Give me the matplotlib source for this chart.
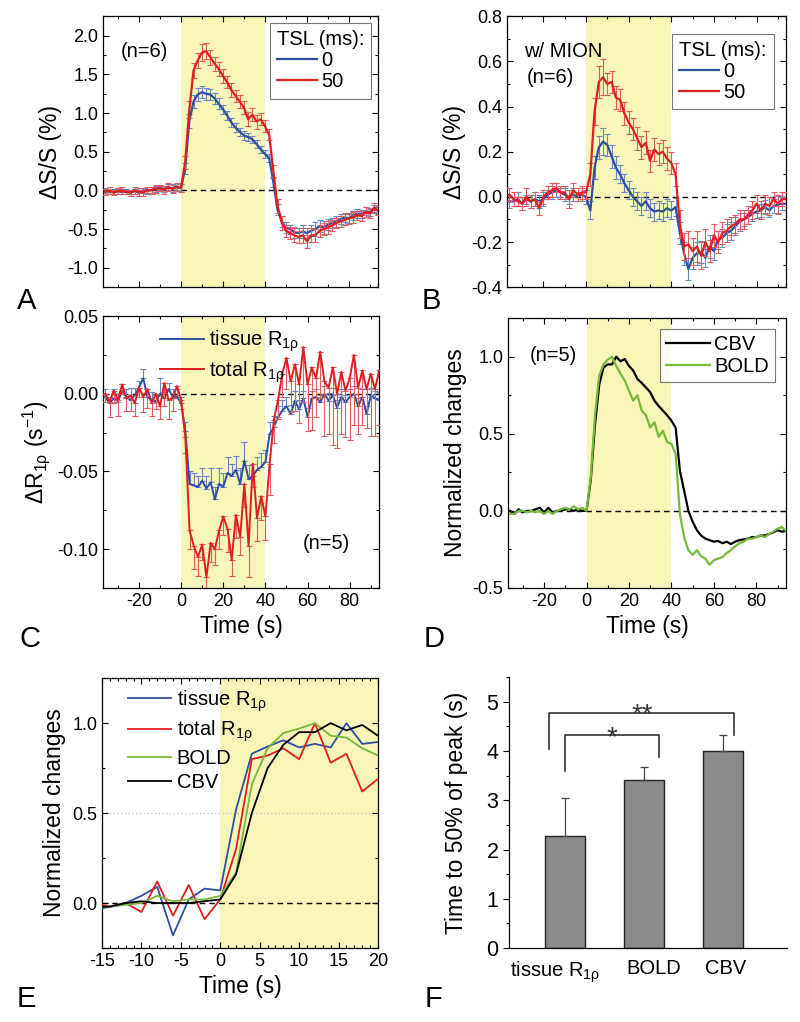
# Six-panel figure: BOLD / R1rho time courses and time-to-half-peak bars
import numpy as np
import matplotlib.pyplot as plt
from matplotlib.ticker import MultipleLocator

plt.rcParams['font.family'] = ['Liberation Sans', 'DejaVu Sans']
plt.rcParams['mathtext.fontset'] = 'custom'
plt.rcParams['mathtext.rm'] = 'Liberation Sans'
plt.rcParams['mathtext.it'] = 'Liberation Sans:italic'
plt.rcParams['mathtext.default'] = 'regular'
plt.rcParams['axes.unicode_minus'] = False

# ---- data -------------------------------------------------------------
time = np.arange(-36, 96, 2)          # s, panels A-D
time_e = np.arange(-16, 22, 2)        # s, panel E

# A: TSL 0 / 50 ms, no MION
a_tsl0 = [0.0, -0.02, 0.0, -0.01, -0.02, 0.0, -0.02, -0.01, -0.03, 0.0, -0.01, 0.01, 0.02, 0.03, 0.02, 0.04, 0.03, 0.05,
          0.03, 0.28, 0.90, 1.15, 1.24, 1.27, 1.25, 1.24, 1.19, 1.12,
          1.05, 0.97, 0.88, 0.81, 0.76, 0.71, 0.69, 0.66, 0.60, 0.53,
          0.47, 0.42, 0.10, -0.25, -0.40, -0.48, -0.50, -0.54, -0.55, -0.53,
          -0.55, -0.52, -0.50, -0.46, -0.48, -0.44, -0.42, -0.40, -0.37, -0.35,
          -0.36, -0.32, -0.30, -0.30, -0.27, -0.28, -0.24, -0.26]
a_tsl0_err = [0.03, 0.03, 0.02, 0.03, 0.03, 0.02, 0.03, 0.03, 0.04, 0.03, 0.03, 0.04, 0.04, 0.03, 0.04, 0.04, 0.05, 0.04,
              0.05, 0.07, 0.09, 0.08, 0.08, 0.08, 0.08, 0.07, 0.07, 0.07,
              0.06, 0.06, 0.06, 0.06, 0.05, 0.06, 0.05, 0.05, 0.05, 0.05,
              0.05, 0.05, 0.06, 0.07, 0.07, 0.07, 0.06, 0.07, 0.06, 0.08,
              0.07, 0.07, 0.09, 0.08, 0.08, 0.07, 0.07, 0.07, 0.06, 0.06,
              0.06, 0.06, 0.06, 0.05, 0.05, 0.05, 0.05, 0.05]
a_tsl50 = [-0.02, 0.0, -0.03, -0.01, 0.0, -0.02, -0.03, 0.0, -0.02, -0.03, 0.01, 0.0, 0.02, 0.03, 0.01, 0.04, 0.02, 0.04,
           0.03, 0.36, 1.05, 1.55, 1.68, 1.78, 1.80, 1.72, 1.64, 1.57,
           1.48, 1.40, 1.30, 1.22, 1.15, 1.07, 0.92, 0.98, 0.89, 0.92,
           0.83, 0.72, 0.25, -0.20, -0.42, -0.52, -0.55, -0.58, -0.60, -0.58,
           -0.66, -0.58, -0.58, -0.52, -0.50, -0.48, -0.45, -0.42, -0.40, -0.38,
           -0.36, -0.35, -0.32, -0.33, -0.28, -0.30, -0.22, -0.26]
a_tsl50_err = [0.04, 0.04, 0.03, 0.04, 0.04, 0.03, 0.04, 0.04, 0.05, 0.04, 0.04, 0.05, 0.05, 0.04, 0.05, 0.05, 0.05, 0.05,
               0.05, 0.08, 0.11, 0.10, 0.10, 0.11, 0.10, 0.10, 0.09, 0.09,
               0.09, 0.08, 0.09, 0.08, 0.09, 0.08, 0.09, 0.08, 0.09, 0.08,
               0.08, 0.07, 0.08, 0.09, 0.09, 0.08, 0.08, 0.09, 0.08, 0.10,
               0.09, 0.09, 0.08, 0.08, 0.08, 0.08, 0.07, 0.07, 0.07, 0.07,
               0.07, 0.07, 0.06, 0.06, 0.06, 0.06, 0.06, 0.06]

# B: TSL 0 / 50 ms, with MION
b_tsl0 = [-0.02, -0.02, -0.01, -0.03, -0.01, -0.02, -0.01, -0.02, -0.01, 0.01, 0.02, 0.03, 0.02, 0.01, 0.0, 0.01, 0.0, 0.01,
          0.0, -0.06, 0.13, 0.22, 0.245, 0.23, 0.18, 0.13, 0.10, 0.06,
          0.03, 0.0, -0.02, -0.04, -0.02, -0.05, -0.065, -0.06, -0.065, -0.05,
          -0.06, -0.045, -0.16, -0.25, -0.32, -0.27, -0.25, -0.245, -0.27, -0.22,
          -0.24, -0.19, -0.18, -0.16, -0.15, -0.13, -0.11, -0.10, -0.09, -0.075,
          -0.065, -0.06, -0.045, -0.06, -0.04, -0.035, -0.03, -0.03]
b_tsl0_err = [0.03, 0.02, 0.03, 0.03, 0.02, 0.03, 0.03, 0.03, 0.03, 0.02, 0.03, 0.03, 0.02, 0.03, 0.03, 0.03, 0.02, 0.03,
              0.03, 0.04, 0.05, 0.05, 0.06, 0.05, 0.05, 0.05, 0.04, 0.04,
              0.04, 0.04, 0.04, 0.04, 0.04, 0.04, 0.04, 0.04, 0.04, 0.04,
              0.04, 0.04, 0.05, 0.05, 0.05, 0.05, 0.05, 0.05, 0.04, 0.05,
              0.04, 0.04, 0.04, 0.04, 0.04, 0.04, 0.04, 0.03, 0.03, 0.03,
              0.03, 0.03, 0.03, 0.03, 0.03, 0.04, 0.03, 0.03]
b_tsl50 = [0.01, -0.01, -0.02, -0.03, 0.0, -0.02, -0.01, -0.05, 0.0, 0.02, 0.03, 0.04, 0.02, 0.02, -0.01, 0.03, 0.01, 0.02,
           0.02, 0.10, 0.38, 0.51, 0.53, 0.50, 0.51, 0.44, 0.43, 0.37,
           0.33, 0.30, 0.26, 0.22, 0.24, 0.16, 0.21, 0.19, 0.20, 0.17,
           0.15, 0.10, -0.12, -0.22, -0.21, -0.24, -0.22, -0.26, -0.20, -0.24,
           -0.17, -0.20, -0.16, -0.15, -0.13, -0.12, -0.10, -0.10, -0.08, -0.06,
           -0.03, -0.06, -0.03, -0.04, -0.01, -0.03, -0.01, -0.01]
b_tsl50_err = [0.03, 0.03, 0.02, 0.03, 0.04, 0.03, 0.03, 0.03, 0.03, 0.03, 0.03, 0.02, 0.03, 0.03, 0.04, 0.03, 0.03, 0.03,
               0.03, 0.05, 0.06, 0.07, 0.08, 0.05, 0.05, 0.05, 0.05, 0.05,
               0.05, 0.05, 0.05, 0.05, 0.05, 0.05, 0.05, 0.05, 0.05, 0.05,
               0.05, 0.05, 0.06, 0.06, 0.06, 0.06, 0.07, 0.06, 0.06, 0.05,
               0.05, 0.05, 0.05, 0.05, 0.04, 0.04, 0.04, 0.04, 0.04, 0.04,
               0.04, 0.04, 0.04, 0.04, 0.03, 0.04, 0.03, 0.03]

# C: tissue / total R1rho changes (s^-1)
c_tissue = [-0.002, -0.006, -0.003, -0.005, 0.002, -0.002, -0.004, -0.001, 0.004, 0.010, -0.002, -0.004, -0.005, 0.0, -0.003, 0.003, -0.002, -0.002,
            -0.006, -0.024, -0.058, -0.059, -0.060, -0.056, -0.061, -0.057, -0.068, -0.058,
            -0.060, -0.051, -0.053, -0.049, -0.058, -0.043, -0.055, -0.053, -0.049, -0.047,
            -0.044, -0.026, -0.0215, -0.015, -0.011, -0.008, -0.013, -0.0045, -0.010, -0.003,
            -0.015, -0.003, -0.002, -0.0055, 0.0, -0.0045, -0.001, -0.009, -0.002, -0.0055,
            -0.002, 0.0, -0.008, -0.002, -0.013, -0.001, -0.003, -0.004]
c_tissue_err = [0.005, 0.004, 0.006, 0.005, 0.004, 0.005, 0.008, 0.005, 0.004, 0.006, 0.005, 0.005, 0.004, 0.010, 0.004, 0.004, 0.005, 0.005,
                0.004, 0.006, 0.008, 0.008, 0.007, 0.008, 0.008, 0.009, 0.008, 0.010,
                0.009, 0.010, 0.008, 0.009, 0.010, 0.012, 0.009, 0.008, 0.008, 0.009,
                0.008, 0.008, 0.007, 0.007, 0.007, 0.006, 0.006, 0.006, 0.006, 0.005,
                0.006, 0.005, 0.005, 0.005, 0.005, 0.005, 0.005, 0.005, 0.005, 0.005,
                0.005, 0.005, 0.005, 0.005, 0.005, 0.005, 0.005, 0.005]
c_total = [0.0, -0.005, 0.002, -0.004, 0.006, -0.003, -0.001, -0.006, 0.004, -0.002, 0.003, -0.006, 0.0, -0.008, 0.007, -0.004, -0.003, 0.005,
           -0.004, -0.028, -0.088, -0.098, -0.105, -0.097, -0.118, -0.096, -0.100, -0.088,
           -0.079, -0.087, -0.107, -0.078, -0.092, -0.058, -0.098, -0.045, -0.080, -0.066,
           -0.079, -0.045, -0.017, -0.004, 0.013, 0.023, 0.008, 0.019, 0.006, 0.030,
           0.006, 0.017, 0.010, 0.027, 0.008, 0.004, 0.017, 0.0, 0.014, 0.002,
           0.010, 0.025, 0.004, 0.015, 0.003, 0.013, 0.003, 0.015]
c_total_err = [0.005, 0.010, 0.008, 0.010, 0.006, 0.008, 0.010, 0.008, 0.006, 0.010, 0.012, 0.008, 0.010, 0.008, 0.015, 0.012, 0.008, 0.006,
               0.006, 0.010, 0.012, 0.015, 0.012, 0.010, 0.010, 0.012, 0.010, 0.012,
               0.012, 0.015, 0.010, 0.015, 0.012, 0.015, 0.020, 0.015, 0.015, 0.015,
               0.015, 0.020, 0.015, 0.012, 0.015, 0.020, 0.020, 0.030, 0.025, 0.035,
               0.030, 0.040, 0.025, 0.030, 0.035, 0.030, 0.050, 0.035, 0.040, 0.030,
               0.040, 0.045, 0.030, 0.035, 0.025, 0.040, 0.030, 0.035]

# D: normalized CBV / BOLD
d_cbv = [0.0, -0.02, 0.01, -0.01, 0.0, 0.0, 0.01, 0.02, -0.01, 0.02, -0.01, 0.0, 0.0, 0.01, 0.01, 0.0, 0.01, 0.0,
         0.0, 0.20, 0.56, 0.82, 0.93, 0.95, 0.95, 1.0, 0.97, 0.985,
         0.94, 0.91, 0.855, 0.83, 0.80, 0.77, 0.715, 0.68, 0.65, 0.62,
         0.585, 0.54, 0.26, 0.13, 0.0, -0.07, -0.125, -0.16, -0.18, -0.19,
         -0.20, -0.195, -0.21, -0.20, -0.215, -0.20, -0.19, -0.185, -0.18, -0.17,
         -0.17, -0.16, -0.16, -0.15, -0.14, -0.125, -0.135, -0.13]
d_bold = [-0.02, -0.02, 0.0, 0.0, -0.01, 0.0, -0.01, 0.0, -0.02, 0.0, -0.02, 0.0, 0.01, 0.02, 0.01, 0.03, 0.01, 0.02,
          0.0, 0.22, 0.62, 0.88, 0.95, 0.98, 1.0, 0.94, 0.89, 0.845,
          0.78, 0.715, 0.75, 0.65, 0.62, 0.54, 0.575, 0.48, 0.52, 0.445,
          0.435, 0.37, -0.02, -0.17, -0.255, -0.285, -0.255, -0.295, -0.31, -0.35,
          -0.32, -0.31, -0.30, -0.275, -0.255, -0.23, -0.21, -0.20, -0.18, -0.18,
          -0.17, -0.16, -0.17, -0.15, -0.135, -0.115, -0.105, -0.13]

# E: normalized onsets
e_tissue = [-0.04, -0.02, 0.0, 0.04, 0.09, -0.18, 0.02, 0.08, 0.07, 0.52, 0.83, 0.87, 0.905, 0.865, 0.885, 0.865, 1.0, 0.885, 0.895]
e_total = [0.0, -0.02, 0.0, -0.05, 0.12, -0.07, 0.10, -0.09, 0.02, 0.30, 0.80, 0.82, 0.86, 0.80, 1.0, 0.78, 0.83, 0.62, 0.69]
e_bold = [-0.02, -0.02, -0.01, 0.0, 0.04, 0.01, 0.02, 0.02, 0.04, 0.17, 0.66, 0.86, 0.945, 0.97, 1.0, 0.93, 0.92, 0.86, 0.82]
e_cbv = [-0.02, -0.02, 0.0, 0.01, 0.0, 0.0, 0.0, 0.01, 0.02, 0.16, 0.50, 0.75, 0.88, 0.95, 0.95, 1.0, 0.96, 0.99, 0.93]

# F: time to 50% of peak
f_labels = ['tissue R$_{1\\rho}$', 'BOLD', 'CBV']
f_values = [2.28, 3.42, 4.0]
f_errors = [0.77, 0.26, 0.32]

# ---- style --------------------------------------------------------------
BLUE = '#2e4f9f'
RED = '#dd1f1f'
GREEN = '#78b83a'
BLUE_ERR = '#6a88c2'
RED_ERR = '#e25c5c'
SHADE = '#f8f5b8'
TICK_FS = 13
LABEL_FS = 16.5
TEXT_FS = 14.5


def origin_style(ax, xmaj, xmin, ymaj, ymin):
    # inward ticks on all four sides, like the Origin defaults
    ax.xaxis.set_major_locator(MultipleLocator(xmaj))
    ax.xaxis.set_minor_locator(MultipleLocator(xmin))
    ax.yaxis.set_major_locator(MultipleLocator(ymaj))
    ax.yaxis.set_minor_locator(MultipleLocator(ymin))
    ax.tick_params(which='both', direction='in', top=True, right=True,
                   labelsize=TICK_FS, width=0.8)
    ax.tick_params(which='major', length=4)
    ax.tick_params(which='minor', length=2.2)
    for s in ax.spines.values():
        s.set_linewidth(0.9)


def zero_line(ax):
    ax.axhline(0, color='k', lw=1.0, ls=(0, (4, 3)), zorder=1)


fig = plt.figure(figsize=(8, 10.22), dpi=100)

# ---- A ----
axA = fig.add_axes([0.129, 0.719, 0.344, 0.265])
axA.axvspan(0, 40, color=SHADE, lw=0, zorder=0)
zero_line(axA)
axA.errorbar(time, a_tsl0, yerr=a_tsl0_err, fmt='none', ecolor=BLUE_ERR,
             elinewidth=0.8, capsize=2.3, capthick=0.8, zorder=2)
axA.plot(time, a_tsl0, color=BLUE, lw=1.6, label='0', zorder=3)
axA.errorbar(time, a_tsl50, yerr=a_tsl50_err, fmt='none', ecolor=RED_ERR,
             elinewidth=0.8, capsize=2.3, capthick=0.8, zorder=4)
axA.plot(time, a_tsl50, color=RED, lw=1.6, label='50', zorder=5)
axA.set_xlim(-37, 94)
axA.set_ylim(-1.25, 2.25)
origin_style(axA, 20, 10, 0.5, 0.25)
axA.tick_params(labelbottom=False)
axA.set_ylabel('ΔS/S (%)', fontsize=LABEL_FS)
leg = axA.legend(title='TSL (ms):', loc='upper right', fontsize=TEXT_FS,
                 title_fontsize=TEXT_FS, alignment='left', fancybox=False,
                 edgecolor='#555555', handlelength=2.0, handletextpad=0.2,
                 labelspacing=0.1, borderpad=0.35, borderaxespad=0.35)
leg.get_frame().set_linewidth(0.8)
axA.text(0.15, 0.87, '(n=6)', transform=axA.transAxes, fontsize=TEXT_FS,
         ha='center', va='center')

# ---- B ----
axB = fig.add_axes([0.634, 0.719, 0.349, 0.265])
axB.axvspan(0, 40, color=SHADE, lw=0, zorder=0)
zero_line(axB)
axB.errorbar(time, b_tsl0, yerr=b_tsl0_err, fmt='none', ecolor=BLUE_ERR,
             elinewidth=0.8, capsize=2.3, capthick=0.8, zorder=2)
axB.plot(time, b_tsl0, color=BLUE, lw=1.6, label='0', zorder=3)
axB.errorbar(time, b_tsl50, yerr=b_tsl50_err, fmt='none', ecolor=RED_ERR,
             elinewidth=0.8, capsize=2.3, capthick=0.8, zorder=4)
axB.plot(time, b_tsl50, color=RED, lw=1.6, label='50', zorder=5)
axB.set_xlim(-37, 94)
axB.set_ylim(-0.4, 0.8)
origin_style(axB, 20, 10, 0.2, 0.1)
axB.tick_params(labelbottom=False)
axB.set_ylabel('ΔS/S (%)', fontsize=LABEL_FS)
leg = axB.legend(title='TSL (ms):', loc='upper right', fontsize=TEXT_FS,
                 title_fontsize=TEXT_FS, alignment='left', fancybox=False,
                 edgecolor='#555555', handlelength=2.0, handletextpad=0.2,
                 labelspacing=0.1, borderpad=0.35, borderaxespad=0.35,
                 bbox_to_anchor=(0.98, 0.96))
leg.get_frame().set_linewidth(0.8)
axB.text(0.20, 0.87, 'w/ MION', transform=axB.transAxes, fontsize=TEXT_FS,
         ha='center', va='center')
axB.text(0.155, 0.775, '(n=6)', transform=axB.transAxes, fontsize=TEXT_FS,
         ha='center', va='center')

# ---- C ----
axC = fig.add_axes([0.129, 0.4247, 0.345, 0.266])
axC.axvspan(0, 40, color=SHADE, lw=0, zorder=0)
zero_line(axC)
zeros = np.zeros(len(time))
axC.errorbar(time, c_tissue, yerr=[zeros, c_tissue_err], fmt='none',
             ecolor=BLUE_ERR, elinewidth=0.8, capsize=2.3, capthick=0.8, zorder=2)
axC.plot(time, c_tissue, color=BLUE, lw=1.4, label='tissue R$_{1\\rho}$', zorder=3)
axC.errorbar(time, c_total, yerr=[c_total_err, zeros], fmt='none',
             ecolor=RED_ERR, elinewidth=0.8, capsize=2.3, capthick=0.8, zorder=4)
axC.plot(time, c_total, color=RED, lw=1.4, label='total R$_{1\\rho}$', zorder=5)
axC.set_xlim(-37, 94)
axC.set_ylim(-0.125, 0.05)
origin_style(axC, 20, 10, 0.05, 0.025)
axC.yaxis.set_major_formatter(plt.FormatStrFormatter('%.2f'))
axC.set_ylabel('ΔR$_{1\\rho}$ (s$^{-1}$)', fontsize=LABEL_FS)
axC.set_xlabel('Time (s)', fontsize=LABEL_FS)
axC.legend(loc='upper left', bbox_to_anchor=(0.14, 1.02), frameon=False,
           fontsize=TEXT_FS, handlelength=2.2, handletextpad=0.25,
           labelspacing=0.25)
axC.text(0.81, 0.165, '(n=5)', transform=axC.transAxes, fontsize=TEXT_FS,
         ha='center', va='center')

# ---- D ----
axD = fig.add_axes([0.635, 0.4247, 0.3475, 0.264])
axD.axvspan(0, 40, color=SHADE, lw=0, zorder=0)
zero_line(axD)
axD.plot(time, d_cbv, color='k', lw=1.6, label='CBV', zorder=3)
axD.plot(time, d_bold, color=GREEN, lw=1.6, label='BOLD', zorder=4)
axD.set_xlim(-37, 94)
axD.set_ylim(-0.5, 1.25)
origin_style(axD, 20, 10, 0.5, 0.25)
axD.set_ylabel('Normalized changes', fontsize=LABEL_FS)
axD.set_xlabel('Time (s)', fontsize=LABEL_FS)
leg = axD.legend(loc='upper right', fontsize=TEXT_FS, fancybox=False,
                 edgecolor='#555555', handlelength=2.2, handletextpad=0.2,
                 labelspacing=0.15, borderpad=0.3, borderaxespad=0.55)
leg.get_frame().set_linewidth(0.8)
axD.text(0.165, 0.86, '(n=5)', transform=axD.transAxes, fontsize=TEXT_FS,
         ha='center', va='center')

# ---- E ----
axE = fig.add_axes([0.1275, 0.0724, 0.345, 0.264])
axE.axvspan(0, 25, color=SHADE, lw=0, zorder=0)
zero_line(axE)
axE.axhline(0.5, color='#bdbdbd', lw=0.9, ls=(0, (1, 2)), zorder=1)
axE.plot(time_e, e_tissue, color=BLUE, lw=1.3, label='tissue R$_{1\\rho}$', zorder=3)
axE.plot(time_e, e_total, color=RED, lw=1.3, label='total R$_{1\\rho}$', zorder=4)
axE.plot(time_e, e_bold, color=GREEN, lw=1.3, label='BOLD', zorder=5)
axE.plot(time_e, e_cbv, color='k', lw=1.3, label='CBV', zorder=6)
axE.set_xlim(-15, 20)
axE.set_ylim(-0.25, 1.25)
origin_style(axE, 5, 1, 0.5, 0.25)
axE.set_ylabel('Normalized changes', fontsize=LABEL_FS)
axE.set_xlabel('Time (s)', fontsize=LABEL_FS)
axE.legend(loc='upper left', bbox_to_anchor=(0.03, 1.03), frameon=False,
           fontsize=TEXT_FS, handlelength=2.1, handletextpad=0.3,
           labelspacing=0.25)

# ---- F ----
axF = fig.add_axes([0.636, 0.0724, 0.3475, 0.265])
xpos = np.arange(len(f_values))
axF.bar(xpos, f_values, width=0.5, color='#8a8a8a', edgecolor='#222222',
        linewidth=1.0, zorder=2)
axF.errorbar(xpos, f_values, yerr=[np.zeros(len(f_values)), f_errors],
             fmt='none', ecolor='#444444', elinewidth=0.9, capsize=3,
             capthick=0.9, zorder=3)
axF.set_xlim(-0.71, 2.81)
axF.set_ylim(0, 5.5)
axF.spines['top'].set_visible(False)
axF.spines['right'].set_visible(False)
for s in ('left', 'bottom'):
    axF.spines[s].set_linewidth(0.9)
axF.yaxis.set_major_locator(MultipleLocator(1))
axF.yaxis.set_minor_locator(MultipleLocator(0.5))
axF.tick_params(axis='y', which='both', direction='out', labelsize=15.5, width=0.8)
axF.tick_params(axis='y', which='major', length=4)
axF.tick_params(axis='y', which='minor', length=2.5)
# labels nudged apart so the long first one does not run into "BOLD"
axF.set_xticks(xpos + np.array([-0.13, 0.13, 0.04]))
axF.set_xticklabels(f_labels, fontsize=14.5)
axF.tick_params(axis='x', length=0, pad=8)
axF.set_ylabel('Time to 50% of peak (s)', fontsize=LABEL_FS, labelpad=13)
# significance brackets
axF.plot([xpos[0] - 0.2, xpos[0] - 0.2, xpos[2] + 0.14, xpos[2] + 0.14],
         [4.05, 4.77, 4.77, 4.32], color='#333333', lw=1.2)
axF.plot([xpos[0], xpos[0], xpos[1] + 0.19, xpos[1] + 0.19],
         [3.6, 4.32, 4.32, 3.87], color='#333333', lw=1.2)
axF.text(0.6, 4.12, '*', ha='center', va='baseline', fontsize=20, color='#333333')
axF.text(0.98, 4.58, '**', ha='center', va='baseline', fontsize=20, color='#333333')

# ---- panel letters ----
for letter, x, y in [('A', 0.021, 0.698), ('B', 0.5275, 0.698),
                     ('C', 0.024, 0.367), ('D', 0.529, 0.367),
                     ('E', 0.021, 0.0147), ('F', 0.531, 0.0147)]:
    fig.text(x, y, letter, fontsize=21, va='baseline', ha='left')

fig.savefig('out.png', dpi=100)
